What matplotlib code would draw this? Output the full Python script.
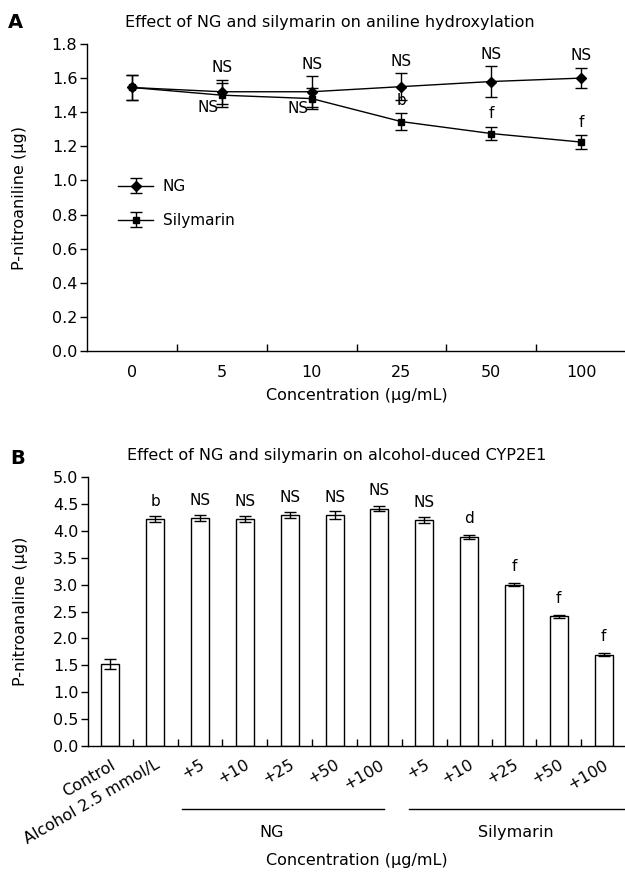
import numpy as np
import matplotlib as mpl
import matplotlib.pyplot as plt
import matplotlib.transforms as mtransforms

mpl.rcParams['font.family'] = 'DejaVu Sans'
mpl.rcParams['font.size'] = 10.5
mpl.rcParams['axes.linewidth'] = 1.0
mpl.rcParams['axes.spines.right'] = False
mpl.rcParams['axes.spines.top'] = False

# Panel A data
conc_labels = ['0', '5', '10', '25', '50', '100']
ng_mean = [1.545, 1.52, 1.52, 1.55, 1.58, 1.60]
ng_err = [0.075, 0.07, 0.09, 0.08, 0.09, 0.06]
sil_mean = [1.545, 1.50, 1.48, 1.345, 1.275, 1.225]
sil_err = [0.075, 0.07, 0.06, 0.05, 0.04, 0.04]
ng_sig = ['', 'NS', 'NS', 'NS', 'NS', 'NS']
sil_sig = ['', 'NS', 'NS', 'b', 'f', 'f']

# Panel B data
bar_labels = ['Control', 'Alcohol 2.5 mmol/L', '+5', '+10', '+25', '+50', '+100',
              '+5', '+10', '+25', '+50', '+100']
bar_mean = [1.53, 4.22, 4.24, 4.22, 4.29, 4.29, 4.41, 4.20, 3.89, 3.00, 2.41, 1.70]
bar_err = [0.09, 0.06, 0.06, 0.06, 0.06, 0.07, 0.05, 0.06, 0.04, 0.03, 0.03, 0.02]
bar_sig = ['', 'b', 'NS', 'NS', 'NS', 'NS', 'NS', 'NS', 'd', 'f', 'f', 'f']

W, H = 625, 872
fig = plt.figure(figsize=(W / 100, H / 100), dpi=100)


def box(x0, y0, x1, y1):
    # pixel box (top-left origin) -> figure fraction rect
    return [x0 / W, 1 - y1 / H, (x1 - x0) / W, (y1 - y0) / H]


def style_axes(ax, n):
    ax.set_xlim(-0.5, n - 0.5)
    ax.set_xticks(np.arange(n))
    ax.set_xticks(np.arange(n) + 0.5, minor=True)
    ax.tick_params(axis='x', which='major', length=0)
    ax.tick_params(axis='x', which='minor', direction='in', length=5, width=1)
    ax.tick_params(axis='y', direction='out', length=5, width=1, pad=2, labelsize=11.5)


# ---------------- Panel A ----------------
axA = fig.add_axes(box(87, 44, 626, 351))
x = np.arange(len(conc_labels))
axA.errorbar(x, ng_mean, yerr=ng_err, color='black', marker='D', ms=5, lw=1,
             capsize=4, elinewidth=1, capthick=1, label='NG')
axA.errorbar(x, sil_mean, yerr=sil_err, color='black', marker='s', ms=5, lw=1,
             capsize=4, elinewidth=1, capthick=1, label='Silymarin')
style_axes(axA, len(conc_labels))
axA.set_xticklabels(conc_labels, fontsize=11.5)
axA.tick_params(axis='x', which='major', pad=10)
axA.set_ylim(0, 1.8)
axA.set_yticks(np.arange(0, 1.81, 0.2))
axA.yaxis.set_major_formatter(mpl.ticker.FormatStrFormatter('%.1f'))

for i in range(len(conc_labels)):
    if ng_sig[i]:
        axA.text(x[i], ng_mean[i] + ng_err[i] + 0.07, ng_sig[i],
                 ha='center', va='center', fontsize=11)
    if sil_sig[i] == 'NS':
        axA.text(x[i] - 0.03, sil_mean[i] - sil_err[i], sil_sig[i],
                 ha='right', va='center', fontsize=11)
    elif sil_sig[i]:
        axA.text(x[i], sil_mean[i] + sil_err[i] + 0.075, sil_sig[i],
                 ha='center', va='center', fontsize=11)

axA.legend(loc='upper left', bbox_to_anchor=(0.058, 0.56), frameon=False,
           borderpad=0, borderaxespad=0, handlelength=2.3, handletextpad=0.6,
           labelspacing=1.25, fontsize=11)
fig.text(330 / W, 1 - 22 / H, 'Effect of NG and silymarin on aniline hydroxylation',
         fontsize=11.5, ha='center', va='center')
axA.set_ylabel('P-nitroaniline (\u03bcg)', fontsize=11.5, labelpad=18)
axA.set_xlabel('Concentration (\u03bcg/mL)', fontsize=11.5, labelpad=6)
fig.text(8 / W, 1 - 22 / H, 'A', fontsize=14, fontweight='bold', va='center')

# ---------------- Panel B ----------------
axB = fig.add_axes(box(88, 477, 626, 746))
xb = np.arange(len(bar_labels))
axB.bar(xb, bar_mean, width=0.4, color='white', edgecolor='black', lw=1)
axB.errorbar(xb, bar_mean, yerr=bar_err, fmt='none', ecolor='black',
             elinewidth=1, capsize=4, capthick=1)
style_axes(axB, len(bar_labels))
axB.set_xticklabels(bar_labels, rotation=30, ha='right', rotation_mode='anchor',
                    fontsize=11.5)
axB.tick_params(axis='x', which='major', pad=8)
axB.set_ylim(0, 5)
axB.set_yticks(np.arange(0, 5.01, 0.5))
axB.yaxis.set_major_formatter(mpl.ticker.FormatStrFormatter('%.1f'))

for i in range(len(bar_labels)):
    if bar_sig[i]:
        axB.text(xb[i], bar_mean[i] + 0.33, bar_sig[i], ha='center', va='center',
                 fontsize=11)

fig.text(337 / W, 1 - 455 / H, 'Effect of NG and silymarin on alcohol-duced CYP2E1',
         fontsize=11.5, ha='center', va='center')
axB.set_ylabel('P-nitroanaline (\u03bcg)', fontsize=11.5, labelpad=18)

# group brackets below tick labels
trans = mtransforms.blended_transform_factory(axB.transData, axB.transAxes)
axB.plot([1.6, 6.1], [-0.234, -0.234], color='black', lw=1, transform=trans,
         clip_on=False)
axB.plot([6.65, 11.6], [-0.234, -0.234], color='black', lw=1, transform=trans,
         clip_on=False)
axB.text(3.6, -0.32, 'NG', transform=trans, ha='center', va='center', fontsize=11.5)
axB.text(9.05, -0.32, 'Silymarin', transform=trans, ha='center', va='center',
         fontsize=11.5)
axB.text(0.5, -0.424, 'Concentration (\u03bcg/mL)', transform=axB.transAxes,
         ha='center', va='center', fontsize=11.5)
fig.text(10 / W, 1 - 458 / H, 'B', fontsize=14, fontweight='bold', va='center')

fig.savefig('out.png', dpi=100)
